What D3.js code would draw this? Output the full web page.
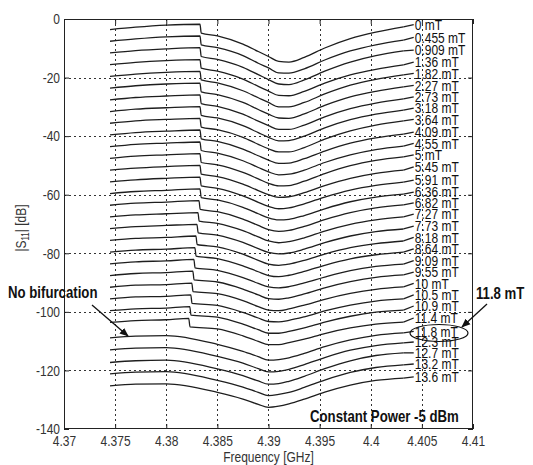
<!DOCTYPE html>
<html><head><meta charset="utf-8">
<script src="https://cdn.jsdelivr.net/npm/d3@7"></script>
<style>body{margin:0;background:#fff}svg{display:block}</style>
</head><body>
<svg id="chart" width="533" height="465"></svg>
<script>
// ---------------- data ----------------
const freqs = [4.3745, 4.377, 4.380, 4.385, 4.3875, 4.389, 4.390, 4.391, 4.392, 4.3935, 4.3955, 4.398, 4.4005, 4.4032];

const fieldLabels = ["0 mT","0.455 mT","0.909 mT","1.36 mT","1.82 mT","2.27 mT","2.73 mT","3.18 mT","3.64 mT","4.09 mT","4.55 mT","5 mT","5.45 mT","5.91 mT","6.36 mT","6.82 mT","7.27 mT","7.73 mT","8.18 mT","8.64 mT","9.09 mT","9.55 mT","10 mT","10.5 mT","10.9 mT","11.4 mT","11.8 mT","12.3 mT","12.7 mT","13.2 mT","13.6 mT"];

const curveValues = [
  [-3.6, -2.8, -2.1, -5.8, -8.6, -11.1, -12.8, -14.5, -14.7, -13.1, -9.9, -6.7, -4.5, -2.7],
  [-7.6, -6.8, -6.1, -9.8, -12.5, -15.1, -16.7, -18.4, -18.5, -17.0, -14.0, -10.9, -8.8, -7.2],
  [-11.6, -10.8, -10.2, -13.8, -16.5, -19.0, -20.7, -22.2, -22.4, -20.8, -17.8, -14.7, -12.5, -10.9],
  [-15.6, -14.8, -14.2, -17.8, -20.5, -23.0, -24.6, -26.1, -26.2, -24.7, -21.9, -19.1, -17.2, -15.7],
  [-19.6, -18.8, -18.2, -21.8, -24.5, -26.9, -28.5, -30.0, -30.0, -28.5, -25.6, -22.6, -20.6, -19.1],
  [-23.6, -22.8, -22.2, -25.8, -28.5, -30.9, -32.5, -33.8, -33.9, -32.4, -29.5, -26.6, -24.7, -23.2],
  [-27.6, -26.8, -26.3, -29.8, -32.5, -34.9, -36.4, -37.7, -37.7, -36.2, -33.4, -30.6, -28.7, -27.3],
  [-31.6, -30.8, -30.3, -33.8, -36.4, -38.8, -40.4, -41.6, -41.5, -40.0, -37.2, -34.4, -32.5, -31.1],
  [-35.6, -34.8, -34.3, -37.8, -40.4, -42.8, -44.3, -45.4, -45.4, -43.9, -41.0, -38.2, -36.2, -34.8],
  [-39.6, -38.8, -38.3, -41.8, -44.4, -46.7, -48.2, -49.3, -49.2, -47.7, -45.1, -42.4, -40.6, -39.3],
  [-43.6, -42.8, -42.4, -45.8, -48.4, -50.7, -52.2, -53.2, -53.0, -51.6, -49.0, -46.4, -44.6, -43.4],
  [-47.6, -46.8, -46.4, -49.8, -52.4, -54.6, -56.1, -57.0, -56.9, -55.4, -52.8, -50.1, -48.3, -47.1],
  [-51.6, -50.9, -50.4, -53.8, -56.4, -58.6, -60.0, -60.9, -60.7, -59.3, -56.9, -54.4, -52.7, -51.6],
  [-55.6, -54.9, -54.4, -57.8, -60.4, -62.6, -64.0, -64.8, -64.5, -63.1, -60.8, -58.4, -56.8, -55.7],
  [-59.6, -58.9, -58.5, -61.8, -64.3, -66.5, -67.9, -68.6, -68.4, -67.1, -64.8, -62.4, -60.8, -59.8],
  [-63.6, -62.9, -62.5, -65.8, -68.3, -70.5, -71.9, -72.5, -72.2, -70.8, -68.5, -66.1, -64.5, -63.5],
  [-67.6, -66.9, -66.5, -69.8, -72.3, -74.4, -75.8, -76.4, -76.0, -74.7, -72.4, -70.1, -68.6, -67.6],
  [-71.6, -70.9, -70.5, -73.8, -76.3, -78.4, -79.7, -80.2, -79.9, -78.6, -76.4, -74.1, -72.6, -71.7],
  [-75.6, -74.9, -74.6, -77.8, -80.3, -82.4, -83.7, -84.1, -83.7, -82.4, -80.3, -78.1, -76.7, -75.8],
  [-79.6, -78.9, -78.6, -81.8, -84.3, -86.3, -87.6, -88.0, -87.5, -86.2, -84.1, -81.9, -80.5, -79.6],
  [-83.6, -82.9, -82.6, -85.8, -88.3, -90.3, -91.5, -91.8, -91.4, -90.1, -88.1, -85.9, -84.5, -83.7],
  [-87.6, -86.9, -86.6, -89.8, -92.2, -94.2, -95.5, -95.7, -95.2, -93.9, -91.8, -89.7, -88.2, -87.4],
  [-91.6, -90.9, -90.7, -93.8, -96.2, -98.2, -99.4, -99.6, -99.0, -97.7, -95.7, -93.7, -92.3, -91.5],
  [-95.6, -94.9, -94.7, -97.8, -100.2, -102.1, -103.3, -103.4, -102.9, -101.7, -99.7, -97.7, -96.3, -95.6],
  [-99.6, -99.0, -98.7, -101.8, -104.2, -106.1, -107.3, -107.3, -106.7, -105.5, -103.5, -101.5, -100.1, -99.4],
  [-103.6, -103.0, -102.7, -105.8, -108.2, -110.1, -111.2, -111.2, -110.5, -109.3, -107.4, -105.5, -104.2, -103.5],
  [-108.9, -108.3, -108.1, -111.1, -113.5, -115.3, -116.5, -116.3, -115.7, -114.2, -111.9, -109.6, -108.0, -107.2],
  [-113.0, -112.4, -112.2, -115.2, -117.5, -119.4, -120.5, -120.3, -119.6, -118.0, -115.6, -113.1, -111.5, -110.6],
  [-117.3, -116.7, -116.5, -119.5, -121.8, -123.6, -124.7, -124.5, -123.7, -122.0, -119.4, -116.7, -114.9, -114.0],
  [-121.2, -120.6, -120.4, -123.4, -125.7, -127.5, -128.6, -128.2, -127.5, -125.8, -123.3, -120.7, -119.0, -118.1],
  [-125.3, -124.7, -124.6, -127.5, -129.8, -131.6, -132.6, -132.2, -131.4, -129.8, -127.4, -125.0, -123.4, -122.6]
];

// bifurcation jump: frequency, level just before and just after the jump (null = no bifurcation)
const jumpFreq = [4.3833,4.3833,4.3833,4.3833,4.3833,4.3833,4.3833,4.3833,4.3833,4.3833,4.3833,4.3833,4.3833,4.3833,4.3833,4.3832,4.3831,4.3830,4.3829,4.3828,4.3827,4.3826,4.3825,4.3824,4.3823,4.3822,null,null,null,null,null];
const jumpPre = [-1.8,-5.8,-9.8,-13.9,-17.9,-21.9,-25.9,-29.9,-33.9,-37.9,-42.0,-46.0,-50.0,-54.0,-58.0,-62.0,-66.1,-70.1,-74.1,-78.1,-82.1,-86.1,-90.2,-94.2,-98.2,-102.2,null,null,null,null,null];
const jumpPost = [-4.8,-8.8,-12.8,-16.8,-20.8,-24.9,-28.9,-32.9,-36.9,-40.9,-44.9,-49.0,-53.0,-57.0,-61.0,-65.0,-69.0,-73.0,-77.0,-81.0,-85.0,-89.1,-93.1,-97.1,-101.1,-105.1,null,null,null,null,null];

// label anchor level (dB) of each field label
const labelDb = [-1.9,-6.3,-10.6,-14.7,-18.6,-22.7,-26.6,-30.4,-34.3,-38.6,-42.5,-46.4,-50.5,-55.0,-59.1,-62.8,-66.6,-70.7,-74.6,-78.5,-82.5,-86.4,-90.3,-94.2,-98.0,-102.1,-106.7,-110.3,-114.0,-117.8,-122.2];

const xTicks = [4.37, 4.375, 4.38, 4.385, 4.39, 4.395, 4.4, 4.405, 4.41];
const yTicks = [0, -20, -40, -60, -80, -100, -120, -140];

// ---------------- drawing ----------------
const FONT = "'Liberation Sans', Arial, sans-serif";
const SQUEEZE = 0.8;   // narrow (condensed) look of the original lettering
const svg = d3.select("#chart");
const X0 = 64, X1 = 473, Y0 = 19, Y1 = 429;
const x = d3.scaleLinear().domain([4.37, 4.41]).range([X0, X1]);
const y = d3.scaleLinear().domain([-140, 0]).range([Y1, Y0]);
const LABEL_F = 4.4043;   // frequency where the field labels begin

// narrow text: scale horizontally about the anchor point
function squeeze(sel, ax, ay) {
  sel.attr("x", 0).attr("y", 0)
     .attr("transform", `translate(${ax},${ay}) scale(${SQUEEZE},1)`);
  return sel;
}

svg.append("rect").attr("width", 533).attr("height", 465).attr("fill", "#fff");

// grid
const grid = svg.append("g").attr("stroke", "#333").attr("stroke-width", 1).attr("stroke-dasharray", "2,3").attr("fill", "none");
xTicks.slice(1, -1).forEach(t => grid.append("line").attr("x1", Math.round(x(t)) + 0.5).attr("x2", Math.round(x(t)) + 0.5).attr("y1", Y0).attr("y2", Y1));
yTicks.slice(1, -1).forEach(t => grid.append("line").attr("y1", Math.round(y(t)) + 0.5).attr("y2", Math.round(y(t)) + 0.5).attr("x1", X0).attr("x2", X1));

// curves
const line = d3.line().x(d => x(d[0])).y(d => y(d[1])).curve(d3.curveMonotoneX);
const cg = svg.append("g").attr("fill", "none").attr("stroke", "#1e1e1e").attr("stroke-width", 1.3);
curveValues.forEach((vals, i) => {
  let pts = freqs.map((f, k) => [f, vals[k]]);
  if (jumpFreq[i] !== null) {
    pts.push([jumpFreq[i], jumpPre[i]]);
    pts.push([jumpFreq[i] + 0.00012, jumpPost[i]]);
    pts.sort((a, b) => a[0] - b[0]);
  }
  cg.append("path").attr("d", line(pts));
  const last = pts[pts.length - 1];
  cg.append("line").attr("x1", x(last[0])).attr("y1", y(last[1]))
    .attr("x2", x(LABEL_F) - 1).attr("y2", y(labelDb[i]));
});

// field labels
svg.append("g").selectAll("text").data(fieldLabels).join("text")
  .attr("dy", "0.36em")
  .attr("font-family", FONT).attr("font-size", 15).attr("fill", "#111")
  .text(d => d)
  .each(function (d, i) { squeeze(d3.select(this), x(LABEL_F), y(labelDb[i])); });

// axes
const fmtX = d => String(+d.toFixed(3));
const fmtY = d => String(d);
const axB = svg.append("g").attr("transform", `translate(0,${Y1})`)
  .call(d3.axisBottom(x).tickValues(xTicks).tickFormat(fmtX).tickSizeInner(-5).tickSizeOuter(0).tickPadding(6));
const axL = svg.append("g").attr("transform", `translate(${X0},0)`)
  .call(d3.axisLeft(y).tickValues(yTicks).tickFormat(fmtY).tickSizeInner(-5).tickSizeOuter(0).tickPadding(4));
const axT = svg.append("g").attr("transform", `translate(0,${Y0})`)
  .call(d3.axisTop(x).tickValues(xTicks).tickFormat("").tickSizeInner(-5).tickSizeOuter(0));
const axR = svg.append("g").attr("transform", `translate(${X1},0)`)
  .call(d3.axisRight(y).tickValues(yTicks).tickFormat("").tickSizeInner(-5).tickSizeOuter(0));
[axB, axL, axT, axR].forEach(a => {
  a.select(".domain").remove();
  a.selectAll("line").attr("stroke", "#222");
  a.selectAll("text").attr("font-family", FONT).attr("font-size", 15).attr("fill", "#333");
});
axB.selectAll("text").each(function () { const t = d3.select(this); squeeze(t, 0, +t.attr("y")); });
axL.selectAll("text").each(function () { const t = d3.select(this); squeeze(t, +t.attr("x"), 0); });

svg.append("rect").attr("x", X0 + 0.5).attr("y", Y0 + 0.5).attr("width", X1 - X0 - 1).attr("height", Y1 - Y0 - 1)
  .attr("fill", "none").attr("stroke", "#222").attr("stroke-width", 1);

// axis titles
squeeze(svg.append("text").attr("text-anchor", "middle")
  .attr("font-family", FONT).attr("font-size", 15).attr("fill", "#333").text("Frequency [GHz]"), (X0 + X1) / 2, 462);
const yt = svg.append("text").attr("transform", `translate(26,228) rotate(-90) scale(${SQUEEZE},1)`).attr("text-anchor", "middle")
  .attr("font-family", FONT).attr("font-size", 15).attr("fill", "#333");
yt.append("tspan").text("|S");
yt.append("tspan").attr("font-size", 10).attr("dy", 3).text("11");
yt.append("tspan").attr("dy", -3).text("| [dB]");

// annotations
const defs = svg.append("defs");
defs.append("marker").attr("id", "arr").attr("viewBox", "0 0 10 10").attr("refX", 9).attr("refY", 5)
  .attr("markerWidth", 7).attr("markerHeight", 7).attr("orient", "auto")
  .append("path").attr("d", "M0,1 L10,5 L0,9 z").attr("fill", "#111");

squeeze(svg.append("text").attr("font-family", FONT).attr("font-weight", "bold")
  .attr("font-size", 16.5).attr("fill", "#111").text("No bifurcation"), 8, 298);
svg.append("line").attr("x1", 92).attr("y1", 305).attr("x2", 128).attr("y2", 336)
  .attr("stroke", "#111").attr("stroke-width", 1.3).attr("marker-end", "url(#arr)");

squeeze(svg.append("text").attr("font-family", FONT).attr("font-weight", "bold")
  .attr("font-size", 16.5).attr("fill", "#111").text("11.8 mT"), 476, 299);
svg.append("line").attr("x1", 487).attr("y1", 304).attr("x2", 462).attr("y2", 327)
  .attr("stroke", "#111").attr("stroke-width", 1.3).attr("marker-end", "url(#arr)");
svg.append("ellipse").attr("cx", 439).attr("cy", 333).attr("rx", 29).attr("ry", 8.5)
  .attr("fill", "none").attr("stroke", "#111").attr("stroke-width", 1.2);

squeeze(svg.append("text").attr("font-family", FONT).attr("font-weight", "bold")
  .attr("font-size", 16.5).attr("fill", "#111").text("Constant Power -5 dBm"), 310, 422);
</script>
</body></html>
